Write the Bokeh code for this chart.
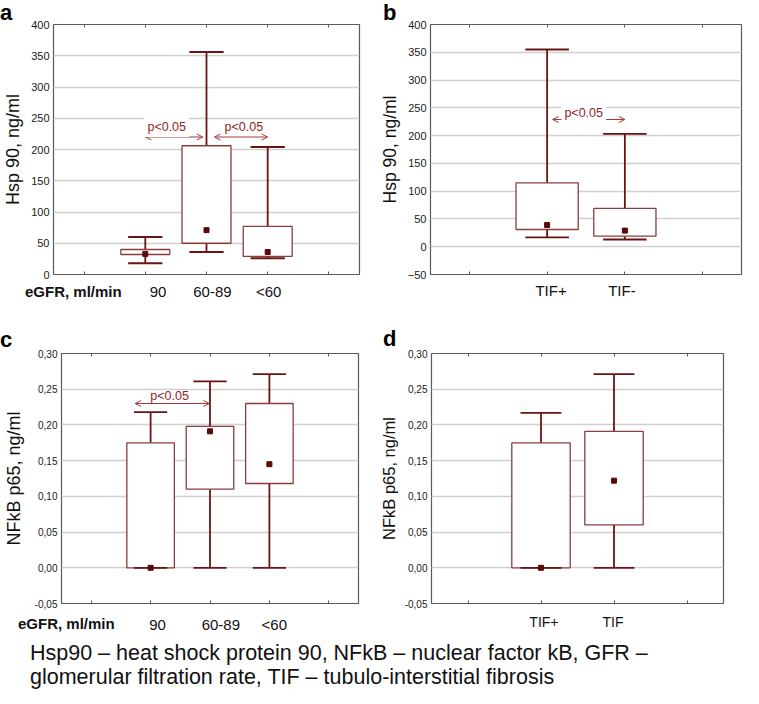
import numpy as np
from bokeh.plotting import figure
from bokeh.models import Label, Arrow, OpenHead, LinearAxis, FixedTicker, CustomJSTickFormatter, Div, Range1d
from bokeh.layouts import column, row
from bokeh.embed import file_html
from bokeh.resources import INLINE

# ---------------- data ----------------
egfr_labels = ["90", "60-89", "<60"]
egfr_pos = [2, 3, 4]

hsp_egfr_min = [18, 36, 26]
hsp_egfr_q1 = [32, 50, 29]
hsp_egfr_q3 = [40, 206, 77]
hsp_egfr_max = [60, 356, 204]
hsp_egfr_mid = [33, 71, 36]

tif_labels_b = ["TIF+", "TIF-"]
tif_pos = [2, 3]
hsp_tif_min = [17, 13]
hsp_tif_q1 = [31, 19]
hsp_tif_q3 = [115, 69]
hsp_tif_max = [355, 203]
hsp_tif_mid = [39, 29]

nfkb_egfr_min = [0.0, 0.0, 0.0]
nfkb_egfr_q1 = [0.0, 0.110, 0.118]
nfkb_egfr_q3 = [0.175, 0.198, 0.230]
nfkb_egfr_max = [0.218, 0.261, 0.271]
nfkb_egfr_mid = [0.0, 0.191, 0.145]

tif_labels_d = ["TIF+", "TIF"]
nfkb_tif_min = [0.0, 0.0]
nfkb_tif_q1 = [0.0, 0.060]
nfkb_tif_q3 = [0.175, 0.191]
nfkb_tif_max = [0.217, 0.271]
nfkb_tif_mid = [0.0, 0.122]

hsp_ticks_a = [0, 50, 100, 150, 200, 250, 300, 350, 400]
hsp_ticks_b = [-50, 0, 50, 100, 150, 200, 250, 300, 350, 400]
nfkb_ticks = [-0.05, 0.0, 0.05, 0.10, 0.15, 0.20, 0.25, 0.30]

x_title = "eGFR, ml/min"
panel_letters = ["a", "b", "c", "d"]
caption_lines = ["Hsp90 \u2013 heat shock protein 90, NFkB \u2013 nuclear factor kB, GFR \u2013",
                 "glomerular filtration rate, TIF \u2013 tubulo-interstitial fibrosis"]

# ---------------- styles ----------------
FONT = "Liberation Sans"
WHISKER = "#6a1414"
BOX = "#8c3c3c"
POINT = "#560b0b"
ARROW = "#a53a3a"
PTEXT = "#8b2525"
GRID = "#d0d0d0"
FRAME = "#5a5a5a"


class Panel:
    def __init__(self, w, h, bl, br, bt, bb, xmax, yr, yticks, ylabel, ylabel_size, ylabel_standoff,
                 tick_size, xs, cats, cat_offsets, cat_size, cat_standoff,
                 mins, q1s, q3s, maxs, mids, comma=False):
        self.fw = w - bl - br
        self.x0, self.x1 = 0.5, xmax
        p = figure(width=w, height=h, x_range=Range1d(0.5, xmax), y_range=Range1d(*yr),
                   output_backend="svg", toolbar_location=None,
                   min_border_left=bl, min_border_right=br, min_border_top=bt, min_border_bottom=bb)
        p.background_fill_color = "white"
        p.border_fill_color = "white"
        p.outline_line_color = FRAME
        p.outline_line_width = 1.2
        p.xgrid.visible = False
        p.ygrid.grid_line_color = GRID
        p.ygrid.grid_line_width = 1.6

        xt = list(range(1, int(xmax) + 1))
        label_x = [x + self.dx(o) for x, o in zip(xs, cat_offsets)]
        for ax in p.xaxis:
            ax.ticker = FixedTicker(ticks=label_x, minor_ticks=xt)
            ax.major_tick_line_color = None
            ax.major_tick_in = 0
            ax.major_tick_out = 0
            ax.minor_tick_in = 3
            ax.minor_tick_out = 0
            ax.minor_tick_line_color = FRAME
            ax.axis_line_color = None
            ax.formatter = CustomJSTickFormatter(args=dict(labels=cats), code="return labels[index];")
            ax.major_label_standoff = cat_standoff
            ax.major_label_text_font = FONT
            ax.major_label_text_font_size = cat_size
            ax.major_label_text_color = "#111111"
        top = LinearAxis(ticker=FixedTicker(ticks=[], minor_ticks=xt), major_tick_in=0, major_tick_out=0,
                         major_tick_line_color=None, minor_tick_in=3, minor_tick_out=0,
                         minor_tick_line_color=FRAME, axis_line_color=None, major_label_standoff=0)
        p.add_layout(top, "above")

        for ax in p.yaxis:
            ax.ticker = FixedTicker(ticks=yticks)
            ax.major_tick_in = 0
            ax.major_tick_out = 0
            ax.minor_tick_line_color = None
            ax.axis_line_color = None
            ax.major_label_standoff = 4
            ax.major_label_text_font = FONT
            ax.major_label_text_font_size = tick_size
            ax.major_label_text_color = "#1a1a1a"
            ax.axis_label = ylabel
            ax.axis_label_text_font = FONT
            ax.axis_label_text_font_size = ylabel_size
            ax.axis_label_text_font_style = "normal"
            ax.axis_label_text_color = "#111111"
            ax.axis_label_standoff = ylabel_standoff
            if comma:
                ax.formatter = CustomJSTickFormatter(code="return tick.toFixed(2).replace('.', ',');")

        xs_a = np.array(xs, dtype=float)
        p.segment(x0=xs_a, y0=q3s, x1=xs_a, y1=maxs, line_color=WHISKER, line_width=1.8)
        p.segment(x0=xs_a, y0=mins, x1=xs_a, y1=q1s, line_color=WHISKER, line_width=1.8)
        p.vbar(x=xs_a, width=0.8, bottom=q1s, top=q3s, fill_color="white",
               line_color=BOX, line_width=1.3)
        p.segment(x0=xs_a - 0.28, y0=maxs, x1=xs_a + 0.28, y1=maxs, line_color=WHISKER, line_width=1.8)
        p.segment(x0=xs_a - 0.28, y0=mins, x1=xs_a + 0.28, y1=mins, line_color=WHISKER, line_width=1.8)
        p.scatter(x=xs_a, y=mids, marker="square", size=5, fill_color=POINT, line_color=POINT)
        self.p = p

    def dx(self, px):
        return px * (self.x1 - self.x0) / self.fw

    def pval(self, x0, x1, y, tx, ty, bg):
        self.p.add_layout(Arrow(x_start=x0, y_start=y, x_end=x1, y_end=y, line_color=ARROW, line_width=1,
                                start=OpenHead(size=6, line_color=ARROW, line_width=1),
                                end=OpenHead(size=6, line_color=ARROW, line_width=1)))
        kw = dict(background_fill_color="white", padding=3) if bg else {}
        self.p.add_layout(Label(x=tx, y=ty, text="p<0.05", text_font=FONT, text_font_size="12.5px",
                                text_color=PTEXT, text_align="center", text_baseline="middle", **kw))


W_LEFT, W_RIGHT = 376, 367
H_ROW1, H_ROW2 = 330, 310

# ---------------- panels ----------------
A = Panel(W_LEFT, H_ROW1, 48, 17, 24, 56, 5.5, (0, 400), hsp_ticks_a, "Hsp 90, ng/ml", "18px", 5, "11px",
          egfr_pos, egfr_labels, [13, 6, 1], "15px", 8,
          hsp_egfr_min, hsp_egfr_q1, hsp_egfr_q3, hsp_egfr_max, hsp_egfr_mid)
A.pval(2.0, 2.94, 220, 2.35, 236, True)
A.pval(3.13, 4.0, 220, 3.61, 236, False)

B = Panel(W_RIGHT, H_ROW1, 50, 2, 24, 56, 4.5, (-50, 400), hsp_ticks_b, "Hsp 90, ng/ml", "17.5px", 5, "11px",
          tif_pos, tif_labels_b, [4, -3], "15px", 7,
          hsp_tif_min, hsp_tif_q1, hsp_tif_q3, hsp_tif_max, hsp_tif_mid)
B.pval(2.07, 3.0, 229, 2.47, 241, True)

C = Panel(W_LEFT, H_ROW2, 57, 18, 23, 37, 5.5, (-0.05, 0.30), nfkb_ticks, "NFkB p65, ng/ml", "18px", 8, "10px",
          egfr_pos, egfr_labels, [7, 11, 5], "15px", 12,
          nfkb_egfr_min, nfkb_egfr_q1, nfkb_egfr_q3, nfkb_egfr_max, nfkb_egfr_mid, comma=True)
C.pval(1.74, 2.99, 0.23, 2.32, 0.2407, False)

D = Panel(W_RIGHT, H_ROW2, 50, 20, 23, 37, 4.5, (-0.05, 0.30), nfkb_ticks, "NFkB p65, ng/ml", "16.5px", 4, "10px",
          tif_pos, tif_labels_d, [3, -1], "14px", 10,
          nfkb_tif_min, nfkb_tif_q1, nfkb_tif_q3, nfkb_tif_max, nfkb_tif_mid, comma=True)

# ---------------- caption (+ panel letters / x titles placed over the figures) ----------------
CAP_TOP = H_ROW1 + H_ROW2  # canvas y where the caption block starts


def span(text, left, top, css):
    return (f'<span style="position:absolute;left:{left}px;top:{top - CAP_TOP}px;'
            f'white-space:nowrap;{css}">{text}</span>')


letter_css = "font-family:'Liberation Sans',Arial,sans-serif;font-size:22px;font-weight:bold;line-height:26px;color:#000;"
title_css = "font-family:'Liberation Sans',Arial,sans-serif;font-size:15px;font-weight:bold;line-height:15px;color:#111;"
overlay = "".join([
    span(panel_letters[0], 0, 0, letter_css),
    span(panel_letters[1], 383, 0, letter_css),
    span(panel_letters[2], 0, 327, letter_css),
    span(panel_letters[3], 383, 326, letter_css),
    span(x_title, 25, 284, title_css),
    span(x_title, 18, 616, title_css),
])
html = (f'<div style="position:relative;width:743px;height:48px;">{overlay}'
        f'<div style="padding:1px 0 0 30px;white-space:nowrap;">{caption_lines[0]}<br>{caption_lines[1]}</div></div>')

caption = Div(text=html, width=743, height=48, margin=(0, 0, 0, 0),
              styles={"font-family": "'Liberation Sans', Arial, sans-serif", "font-size": "21.5px",
                      "line-height": "24px", "color": "#111111", "overflow": "visible",
                      "z-index": "10"})

layout = column(row(A.p, B.p), row(C.p, D.p), caption)

with open("out.html", "w") as f:
    f.write(file_html(layout, INLINE))
